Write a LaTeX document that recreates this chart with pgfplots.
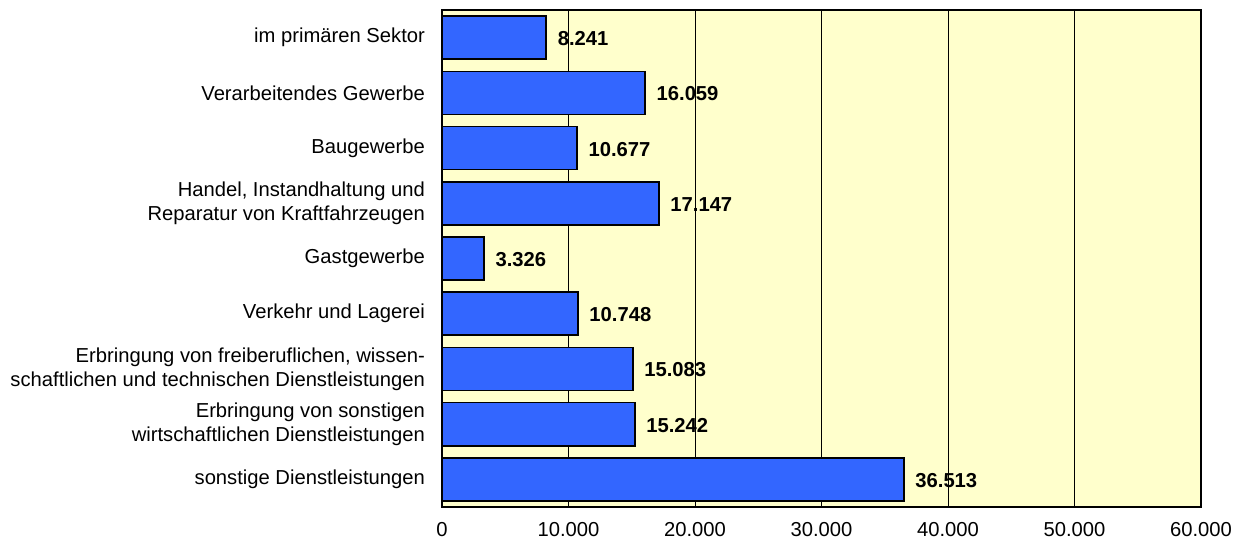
\documentclass[border=0pt]{standalone}
\usepackage{pgfplots}
\pgfplotsset{compat=1.18}
\usepackage{fontspec}
\setmainfont{Liberation Sans}
\definecolor{barblue}{HTML}{3366FF}
\definecolor{bgyellow}{HTML}{FFFFCC}
\begin{document}
\fontsize{10.1}{12}\selectfont
\begin{tikzpicture}
\path[use as bounding box] (0,0) rectangle (620.5pt,270pt);
\begin{axis}[
  at={(221pt,16.5pt)}, anchor=south west,
  scale only axis, width=379.5pt, height=248.5pt,
  xmin=0, xmax=60000, ymin=-0.5, ymax=8.5,
  y dir=reverse,
  xbar, bar width=0.78,
  axis background/.style={fill=bgyellow},
  xtick={0,10000,...,60000},
  ytick={0,...,8},
  yticklabels={im primären Sektor, Verarbeitendes Gewerbe, Baugewerbe, {Handel, Instandhaltung und\\Reparatur von Kraftfahrzeugen}, Gastgewerbe, Verkehr und Lagerei, {Erbringung von freiberuflichen, wissen-\\schaftlichen und technischen Dienstleistungen\ }, {Erbringung von sonstigen\\wirtschaftlichen Dienstleistungen\ }, sonstige Dienstleistungen},
  yticklabel style={align=right, font=\fontsize{10.1}{12}\selectfont, xshift=-5pt},
  xticklabel style={font=\fontsize{10.1}{12}\selectfont, yshift=-4pt},
  major tick length=0pt,
  xmajorgrids, grid style={black, line width=0.5pt},
  axis line style={black, line width=0.6pt},
  scaled x ticks=false,
  x tick label style={/pgf/number format/.cd, fixed, precision=0, 1000 sep={.}},
  /pgf/number format/assume math mode=true,
  nodes near coords,
  nodes near coords style={font=\bfseries\fontsize{10.1}{12}\selectfont, anchor=west, xshift=2pt, yshift=-0.5pt, /pgf/number format/.cd, fixed, precision=0, 1000 sep={.}},
]
\addplot[fill=barblue, draw=black, line width=0.8pt] coordinates {
(8241,0) (16059,1) (10677,2) (17147,3) (3326,4) (10748,5) (15083,6) (15242,7) (36513,8)};
\end{axis}
\end{tikzpicture}
\end{document}
